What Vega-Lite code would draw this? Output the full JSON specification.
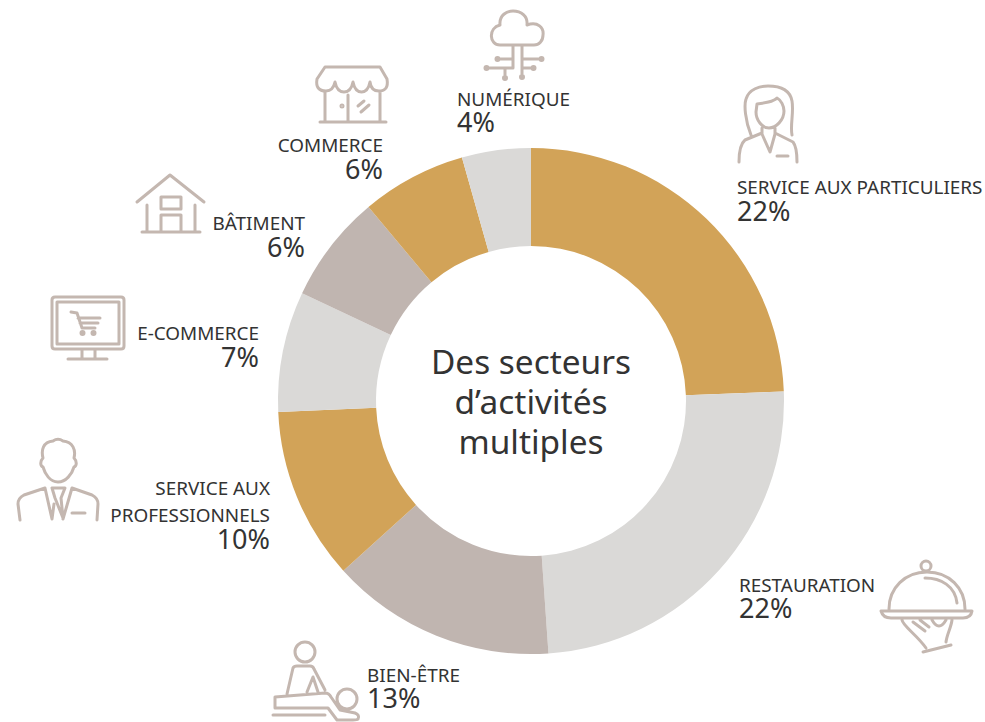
{
"$schema":"https://vega.github.io/schema/vega-lite/v6.json",
"width":908,"height":642,"autosize":"none","padding":{"left":77,"top":80,"right":0,"bottom":0},
"background":"white","view":{"stroke":null},
"data":{"values":[
{"rank":1,"sector":"SERVICE AUX PARTICULIERS","label":"SERVICE AUX PARTICULIERS","pct":"22%","arc":24.4,"side":"L"},
{"rank":2,"sector":"RESTAURATION","label":"RESTAURATION","pct":"22%","arc":24.5,"side":"L"},
{"rank":3,"sector":"BIEN-ÊTRE","label":"BIEN-ÊTRE","pct":"13%","arc":14.4,"side":"L"},
{"rank":4,"sector":"SERVICE AUX PROFESSIONNELS","label":"SERVICE AUX\u00a0\nPROFESSIONNELS","pct":"10%","arc":11.0,"side":"R"},
{"rank":5,"sector":"E-COMMERCE","label":"E-COMMERCE","pct":"7%","arc":7.7,"side":"R"},
{"rank":6,"sector":"BÂTIMENT","label":"BÂTIMENT","pct":"6%","arc":6.9,"side":"R"},
{"rank":7,"sector":"COMMERCE","label":"COMMERCE","pct":"6%","arc":6.7,"side":"R"},
{"rank":8,"sector":"NUMÉRIQUE","label":"NUMÉRIQUE","pct":"4%","arc":4.4,"side":"L"}
]},
"resolve":{"scale":{"x":"independent","y":"independent","theta":"independent"}},
"layer":[
{"mark":{"type":"arc","innerRadius":155,"outerRadius":253},
 "encoding":{"theta":{"field":"arc","type":"quantitative","stack":true},"order":{"field":"rank","type":"quantitative"},
 "color":{"field":"rank","type":"ordinal","legend":null,"scale":{"domain":[1,2,3,4,5,6,7,8],"range":["#d2a358","#dad9d7","#c0b5b0","#d2a358","#dad9d7","#c0b5b0","#d2a358","#dad9d7"]}}}},
{"data":{"values":[{"title":"Des secteurs\nd’activités\nmultiples"}]},
 "mark":{"type":"text","font":"Noto Sans","fontSize":33.4,"lineHeight":40,"lineBreak":"\n","align":"center","baseline":"middle","dy":-37,"color":"#333333"},
 "encoding":{"text":{"field":"title"}}},
{"transform":[{"filter":"datum.side==='L'"}],
 "mark":{"type":"text","font":"Noto Sans","fontSize":18.9,"lineHeight":27,"lineBreak":"\n","align":"left","baseline":"alphabetic","color":"#333333"},
 "encoding":{"text":{"field":"label"},
 "x":{"field":"rank","type":"quantitative","axis":null,"scale":{"domain":[1,2,3,4,5,6,7,8],"range":[660,662,290,193,182,228,306,380]}},
 "y":{"field":"rank","type":"quantitative","axis":null,"scale":{"domain":[1,2,3,4,5,6,7,8],"range":[114,512,602,415,260,150,72,26]}}}},
{"transform":[{"filter":"datum.side==='R'"}],
 "mark":{"type":"text","font":"Noto Sans","fontSize":18.9,"lineHeight":27,"lineBreak":"\n","align":"right","baseline":"alphabetic","color":"#333333"},
 "encoding":{"text":{"field":"label"},
 "x":{"field":"rank","type":"quantitative","axis":null,"scale":{"domain":[1,2,3,4,5,6,7,8],"range":[660,662,290,193,182,228,306,380]}},
 "y":{"field":"rank","type":"quantitative","axis":null,"scale":{"domain":[1,2,3,4,5,6,7,8],"range":[114,512,602,415,260,150,72,26]}}}},
{"transform":[{"filter":"datum.side==='L'"}],
 "mark":{"type":"text","font":"Noto Sans","fontSize":27,"align":"left","baseline":"alphabetic","color":"#333333"},
 "encoding":{"text":{"field":"pct"},
 "x":{"field":"rank","type":"quantitative","axis":null,"scale":{"domain":[1,2,3,4,5,6,7,8],"range":[660,662,290,193,182,228,306,380]}},
 "y":{"field":"rank","type":"quantitative","axis":null,"scale":{"domain":[1,2,3,4,5,6,7,8],"range":[141,538,628,469,287,177,99,52]}}}},
{"transform":[{"filter":"datum.side==='R'"}],
 "mark":{"type":"text","font":"Noto Sans","fontSize":27,"align":"right","baseline":"alphabetic","color":"#333333"},
 "encoding":{"text":{"field":"pct"},
 "x":{"field":"rank","type":"quantitative","axis":null,"scale":{"domain":[1,2,3,4,5,6,7,8],"range":[660,662,290,193,182,228,306,380]}},
 "y":{"field":"rank","type":"quantitative","axis":null,"scale":{"domain":[1,2,3,4,5,6,7,8],"range":[141,538,628,469,287,177,99,52]}}}},
{"mark":{"type":"point","filled":false,"stroke":"#c4b7b0","strokeWidth":3,"opacity":1,"size":4,"strokeCap":"round","strokeJoin":"round"},
 "encoding":{
 "x":{"field":"rank","type":"quantitative","axis":null,"scale":{"domain":[1,2,3,4,5,6,7,8],"range":[693,850,238,-19,10,93,275,438]}},
 "y":{"field":"rank","type":"quantitative","axis":null,"scale":{"domain":[1,2,3,4,5,6,7,8],"range":[45,530,600,400,248,125,15,-35]}},
 "shape":{"field":"rank","type":"nominal","legend":null,"scale":{"domain":[1,2,3,4,5,6,7,8],"range":[
"M-19,10 C-25,-5 -26,-20 -24,-26 C-21,-36 -10,-39 -2,-39 C10,-39 20,-35 22,-24 C24,-12 20,0 22,10 M-13,-21 C-5,-22 3,-23 7,-27 C11,-25 14,-19 14,-14 C14,-5 6,3 -1,3 C-8,3 -14,-5 -14,-13 Z M-8,3 L-8,9 L0,27 L5,9 L5,3 M-8,8 L-25,15 Q-31,20 -31,37 M5,8 L23,17 Q27,22 27,37 M7,31 L18,31",
"M-46,1 L45,1 Q44,8 36,8 L-36,8 Q-44,8 -46,1 Z M-38,-1 C-38,-22 -22,-38 0,-38 C22,-38 38,-22 38,-1 M-2,-32 C14,-32 28,-24 30,-7 M-6,-44 A5,5 0 1 1 4,-44 A5,5 0 1 1 -6,-44 Z M-25,10 C-24,16 -10,25 -1,38 M19,32 C20,24 24,18 25,10 M-14,12 L-2,21 M-7,10 L2,17 M5,10 Q12,22 19,10 M-4,42 L24,35",
"M-20,-28 A10,10 0 1 1 0,-28 A10,10 0 1 1 -20,-28 Z M-28,14 L-22,-12 Q-21,-14 -18,-14 L-5,-14 Q-2,-14 -1,-11 L10,10 M-8,12 L-2,-3 L3,12 M-40,17 L10,13 Q14,13 16,17 L25,30 L40,33 Q45,35 43,39 Q42,40 38,40 L22,40 L13,28 L-40,28 Z M-42,35 L10,35 M22,19 A10,10 0 1 1 42,19 A10,10 0 1 1 22,19 Z",
"M0,2 C-8,2 -13,-6 -15,-13 C-18,-14 -18,-19 -15,-22 C-17,-30 -15,-38 -5,-39 C-2,-41 2,-41 5,-39 C15,-38 18,-30 16,-22 C19,-19 19,-14 16,-13 C14,-6 8,2 0,2 Z M-38,40 L-40,24 Q-40,18 -34,15 L-13,8 L-6,39 L-4,24 M-6,8 L7,8 L3,18 L5,38 L-3,18 Z M5,39 L14,8 L34,15 Q40,18 40,24 L39,40 M14,33 L27,33",
"M-35,-28 Q-35,-31 -32,-31 L34,-31 Q37,-31 37,-28 L37,18 Q37,21 34,21 L-32,21 Q-35,21 -35,18 Z M-30,-26 L32,-26 L32,16 L-30,16 Z M-5,21 L-5,31 M8,21 L8,31 M-19,31 L20,31 M-16,-16 L-10,-15 L-5,0 L8,0 M-9,-10 L13,-10 M-7,-5 L11,-5 M-6,5 A1.5,1.5 0 1 1 -3,5 A1.5,1.5 0 1 1 -6,5 Z M5,5 A1.5,1.5 0 1 1 8,5 A1.5,1.5 0 1 1 5,5 Z",
"M-33,-3 L0,-30 L34,-3 M-23,0 L-23,27 M25,0 L25,27 M-28,27 L30,27 M-9,-8 L11,-8 L11,4 L-9,4 Z M-9,27 L-9,10 L11,10 L11,27",
"M-27,-28 L28,-28 L35,-16 Q37,-4 27,-4 Q19,-4 18,-13 Q16,-3 9.5,-3 Q3,-3 1,-13 Q-1,-3 -8,-3 Q-15,-3 -17,-13 Q-19,-4 -26,-4 Q-37,-4 -35,-16 Z M-27,-3 L-27,27 M28,-3 L28,27 M-32,27 L34,27 M-4,0 L-4,27 M-11,11 A1,1 0 1 1 -9,11 A1,1 0 1 1 -11,11 Z M6,11 L12,6 M9,17 L17,10",
"M-15,0 C-26,0 -27,-17 -15,-20 C-16,-30 -8,-34 -2,-34 C6,-34 13,-29 12,-20 C23,-24 29,-17 28,-10 C28,-4 24,0 19,0 Z M-2,0 L-2,23 L-26,23 M-2,14 L-15,14 M-10,23 L-10,31 M7,0 L7,30 M7,14 L25,14 M7,23 L17,23 M-30,23 A1.5,1.5 0 1 1 -27,23 A1.5,1.5 0 1 1 -30,23 Z M-19,14 A1.5,1.5 0 1 1 -16,14 A1.5,1.5 0 1 1 -19,14 Z M-11.5,33 A1.5,1.5 0 1 1 -8.5,33 A1.5,1.5 0 1 1 -11.5,33 Z M5.5,32 A1.5,1.5 0 1 1 8.5,32 A1.5,1.5 0 1 1 5.5,32 Z M25,14 A1.5,1.5 0 1 1 28,14 A1.5,1.5 0 1 1 25,14 Z M17,23 A1.5,1.5 0 1 1 20,23 A1.5,1.5 0 1 1 17,23 Z"
]}}}}
]}
